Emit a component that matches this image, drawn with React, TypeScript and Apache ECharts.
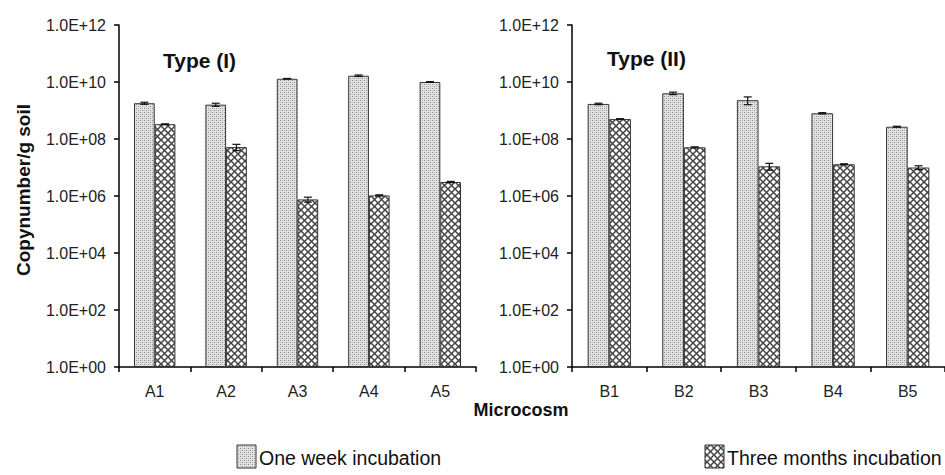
import React, { useEffect, useRef } from "react";
import * as echarts from "echarts";

const catsI = ["A1", "A2", "A3", "A4", "A5"];
const catsII = ["B1", "B2", "B3", "B4", "B5"];
const weekI = [1.8e9, 1.6e9, 1.3e10, 1.66e10, 1.0e10];
const monthsI = [3.3e8, 5.2e7, 7.6e5, 1.05e6, 3.1e6];
const weekII = [1.7e9, 4.0e9, 2.3e9, 8.0e8, 2.7e8];
const monthsII = [5.0e8, 5.1e7, 1.1e7, 1.3e7, 1.0e7];
const weekErrI = [1.5e8, 2.0e8, 3.0e8, 1.0e9, 3.0e8];
const monthsErrI = [1.0e7, 1.3e7, 1.5e5, 5.0e4, 1.5e5];
const weekErrII = [1.0e8, 4.0e8, 7.0e8, 4.0e7, 1.0e7];
const monthsErrII = [1.5e7, 2.0e6, 3.0e6, 5.0e5, 1.5e6];
const yTickExponents = [0, 2, 4, 6, 8, 10, 12];
const legendNames = ["One week incubation", "Three months incubation"];
const panelTitles = ["Type (I)", "Type (II)"];

const FONT = "Liberation Sans, Arial, sans-serif";
const CAT_GAP = 0.42;

function makeDots(): HTMLCanvasElement {
  const c = document.createElement("canvas");
  c.width = 4;
  c.height = 4;
  const g = c.getContext("2d")!;
  g.fillStyle = "#e2e2e2";
  g.fillRect(0, 0, 4, 4);
  g.fillStyle = "#8e8e8e";
  g.fillRect(0, 0, 1, 1);
  g.fillRect(2, 2, 1, 1);
  g.fillStyle = "#bcbcbc";
  g.fillRect(2, 0, 1, 1);
  g.fillRect(0, 2, 1, 1);
  return c;
}

function makeHatch(): HTMLCanvasElement {
  const s = 7;
  const c = document.createElement("canvas");
  c.width = s;
  c.height = s;
  const g = c.getContext("2d")!;
  g.fillStyle = "#ffffff";
  g.fillRect(0, 0, s, s);
  g.strokeStyle = "#444444";
  g.lineWidth = 1.5;
  g.beginPath();
  g.moveTo(-1, -1);
  g.lineTo(s + 1, s + 1);
  g.moveTo(s + 1, -1);
  g.lineTo(-1, s + 1);
  g.stroke();
  return c;
}

const lg = (v: number) => Math.log10(v);

export default function App() {
  const ref = useRef<HTMLDivElement>(null);
  useEffect(() => {
    document.body.style.margin = "0";
    if (!ref.current) return;
    const chart = echarts.init(ref.current, undefined, { renderer: "svg" });
    const dots = { image: makeDots(), repeat: "repeat" };
    const hatch = { image: makeHatch(), repeat: "repeat" };

    const grids = [
      { left: 119, top: 25, width: 357, height: 342 },
      { left: 572, top: 25, width: 373, height: 342 },
    ];

    const xAxes = [catsI, catsII].map((cats, i) => ({
      type: "category",
      gridIndex: i,
      data: cats,
      axisLine: { lineStyle: { color: "#000", width: 1.5 } },
      axisTick: { show: true, length: 5, lineStyle: { color: "#000", width: 1.5 } },
      axisLabel: { color: "#222", fontFamily: FONT, fontSize: 16, margin: 16 },
    }));

    const yAxes = [0, 1].map((i) => ({
      type: "value",
      gridIndex: i,
      min: yTickExponents[0],
      max: yTickExponents[yTickExponents.length - 1],
      interval: 2,
      splitLine: { show: false },
      axisLine: { show: true, lineStyle: { color: "#000", width: 1.5 } },
      axisTick: { show: true, length: 5, lineStyle: { color: "#000", width: 1.5 } },
      axisLabel: {
        color: "#222",
        fontFamily: FONT,
        fontSize: 16,
        margin: 13,
        formatter: (v: number) => "1.0E+" + String(v).padStart(2, "0"),
      },
    }));

    const makeBar = (vals: number[], idx: number, fill: any, name: string) => ({
      type: "bar",
      name,
      xAxisIndex: idx,
      yAxisIndex: idx,
      data: vals.map(lg),
      barGap: "0%",
      barCategoryGap: CAT_GAP * 100 + "%",
      itemStyle: { color: fill, borderColor: "#333", borderWidth: 1 },
      z: 2,
    });

    const errData = (w: number[], we: number[], m: number[], me: number[]) => {
      const out: number[][] = [];
      w.forEach((v, i) => out.push([i, lg(v + we[i]), lg(Math.max(v - we[i], 1)), 0]));
      m.forEach((v, i) => out.push([i, lg(v + me[i]), lg(Math.max(v - me[i], 1)), 1]));
      return out;
    };

    const makeErr = (data: number[][], idx: number) => ({
      type: "custom",
      xAxisIndex: idx,
      yAxisIndex: idx,
      z: 5,
      silent: true,
      data,
      renderItem: (params: any, api: any) => {
        const cat = api.value(0);
        const band = api.size([1, 0])[0];
        const barW = (band * (1 - CAT_GAP)) / 2;
        const side = api.value(3) === 0 ? -1 : 1;
        const hi = api.coord([cat, api.value(1)]);
        const lo = api.coord([cat, api.value(2)]);
        const x = hi[0] + (side * barW) / 2;
        const cap = 4;
        const st = { stroke: "#111", lineWidth: 1.2 };
        return {
          type: "group",
          children: [
            { type: "line", shape: { x1: x, y1: hi[1], x2: x, y2: lo[1] }, style: st },
            { type: "line", shape: { x1: x - cap, y1: hi[1], x2: x + cap, y2: hi[1] }, style: st },
            { type: "line", shape: { x1: x - cap, y1: lo[1], x2: x + cap, y2: lo[1] }, style: st },
          ],
        };
      },
    });

    const option: any = {
      animation: false,
      backgroundColor: "#fff",
      textStyle: { fontFamily: FONT },
      grid: grids,
      xAxis: xAxes,
      yAxis: yAxes,
      series: [
        makeBar(weekI, 0, dots, legendNames[0]),
        makeBar(monthsI, 0, hatch, legendNames[1]),
        makeBar(weekII, 1, dots, legendNames[0]),
        makeBar(monthsII, 1, hatch, legendNames[1]),
        makeErr(errData(weekI, weekErrI, monthsI, monthsErrI), 0),
        makeErr(errData(weekII, weekErrII, monthsII, monthsErrII), 1),
      ],
      graphic: [
        {
          type: "text",
          x: 163,
          y: 60,
          style: { text: panelTitles[0], font: `bold 21px ${FONT}`, fill: "#111", textVerticalAlign: "middle" },
        },
        {
          type: "text",
          x: 607,
          y: 58,
          style: { text: panelTitles[1], font: `bold 21px ${FONT}`, fill: "#111", textVerticalAlign: "middle" },
        },
        {
          type: "text",
          x: 23,
          y: 190,
          rotation: Math.PI / 2,
          style: {
            text: "Copynumber/g soil",
            font: `bold 19px ${FONT}`,
            fill: "#111",
            textAlign: "center",
            textVerticalAlign: "middle",
          },
        },
        {
          type: "text",
          x: 521,
          y: 410,
          style: {
            text: "Microcosm",
            font: `bold 18px ${FONT}`,
            fill: "#111",
            textAlign: "center",
            textVerticalAlign: "middle",
          },
        },
        {
          type: "rect",
          shape: { x: 237, y: 445, width: 19, height: 23 },
          style: { fill: dots as any, stroke: "#333", lineWidth: 1 },
        },
        {
          type: "text",
          x: 259,
          y: 458,
          style: { text: legendNames[0], font: `19.5px ${FONT}`, fill: "#111", textVerticalAlign: "middle" },
        },
        {
          type: "rect",
          shape: { x: 705, y: 445, width: 19, height: 23 },
          style: { fill: hatch as any, stroke: "#333", lineWidth: 1 },
        },
        {
          type: "text",
          x: 727,
          y: 458,
          style: { text: legendNames[1], font: `19.5px ${FONT}`, fill: "#111", textVerticalAlign: "middle" },
        },
      ],
    };
    chart.setOption(option);
    return () => chart.dispose();
  }, []);
  return <div ref={ref} style={{ width: 945, height: 475 }} />;
}
